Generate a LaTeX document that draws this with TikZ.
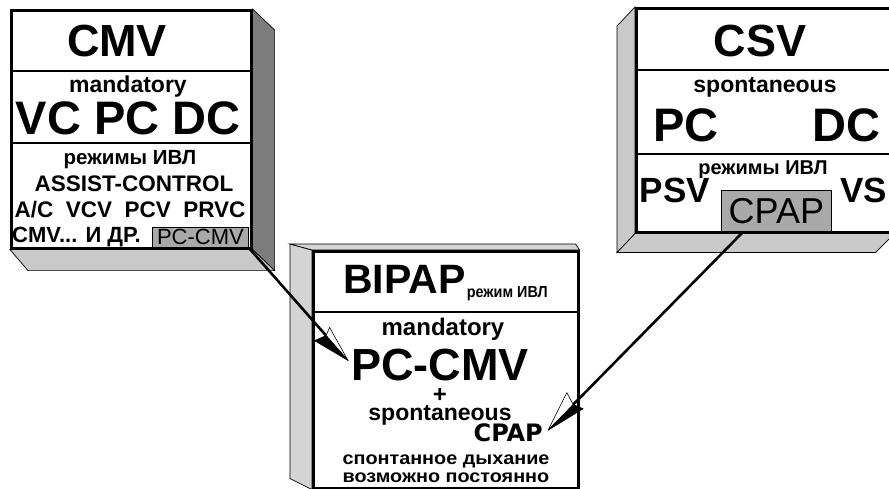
\documentclass[tikz,border=0pt]{standalone}
\usepackage{fontspec}
\setmainfont{Liberation Sans}
\newfontfamily\heavyfont{DejaVu Sans}
\newfontfamily\widefont{Liberation Sans}[FakeStretch=1.1]
\newfontfamily\narrowfont{Liberation Sans}[FakeStretch=0.9]
\usetikzlibrary{arrows.meta,positioning,calc,backgrounds}
\definecolor{shade}{HTML}{7d7d7d}
\definecolor{pale}{HTML}{c9c9c9}
\definecolor{chip}{HTML}{a9a9a9}

% two-tone arrow head: start, tip, length, white width, dark width, white side, dark side
\newcommand\kitehead[7]{%
  \coordinate (kb) at ($(#2)!#3!(#1)$);
  \coordinate (kn) at ($(#2)!0.9*#3!(#1)$);
  \coordinate (kw) at ($(kb)!#4!#6:(#2)$);
  \coordinate (kd) at ($(kb)!#5!#7:(#2)$);
  \filldraw[fill=white,line width=0.6pt,line join=round] (#2) -- (kw) -- (kn) -- cycle;
  \filldraw[line width=0.6pt,line join=round] (#2) -- (kd) -- (kn) -- cycle;}

\begin{document}
\begin{tikzpicture}[x=1pt,y=-1pt,
   face/.style={draw,line width=2.6pt,fill=white,inner sep=0pt,anchor=north west},
   sideface/.style={draw,line width=0.7pt,fill=#1},
   rule/.style={line width=1.3pt},
   txt/.style={inner sep=0pt,anchor=base,font=\bfseries\fontsize{#1}{#1}\selectfont},
   chipbox/.style={draw,line width=0.8pt,fill=chip,anchor=north west,inner sep=0pt},
   shaft/.style={line width=2.6pt}]
  \useasboundingbox (0,0) rectangle (889,489);

  % fronts
  \node[face,minimum width=240pt,minimum height=238pt] (cmv) at (10,9) {};
  \node[face,minimum width=257pt,minimum height=224pt] (csv) at (635,7) {};
  \node[face,minimum width=265pt,minimum height=237pt] (bip) at (312,250) {};

  % extrusions
  \begin{scope}[on background layer]
    \draw[sideface=shade] (cmv.north east) -- ++(22,21) -- ($(cmv.south east)+(22,21)$) -- (cmv.south east) -- cycle;
    \draw[sideface=pale] (cmv.south west) -- ++(18,21) -- ($(cmv.south east)+(22,21)$) -- (cmv.south east) -- cycle;
    \draw[sideface=pale] (csv.north west) -- ++(-18,19) -- ($(csv.south west)+(-18,19)$) -- (csv.south west) -- cycle;
    \draw[sideface=pale] (csv.south west) -- ++(-18,19) -- ($(csv.south east)+(-19,19)$) -- (csv.south east) -- cycle;
    \draw[sideface=pale!80!white] (bip.north west) -- ++(-22,-6) -- ($(bip.south west)+(-22,-11)$) -- (bip.south west) -- cycle;
    \draw[sideface=pale!80!white] (bip.north west) -- ++(-22,-6) -- ($(bip.north east)+(-4,-6)$) -- (bip.north east) -- cycle;
  \end{scope}

  % dividers
  \draw[rule] (cmv.west |- 0,71) -- (cmv.east |- 0,71);
  \draw[rule] (cmv.west |- 0,143) -- (cmv.east |- 0,143);
  \draw[rule] (csv.west |- 0,70) -- (csv.east |- 0,70);
  \draw[rule] (csv.west |- 0,154) -- (csv.east |- 0,154);
  \draw[rule] (bip.west |- 0,312) -- (bip.east |- 0,312);

  % CMV box
  \node[txt=45] (t1) at (117,57) {CMV};
  \node[txt=23] (m1) at (128,93) {mandatory};
  \node[txt=47] (v1) at (128,135) {VC PC DC};
  \node[txt=20.5] (r1) at (130,165) {режимы ИВЛ};
  \node[txt=22.5] (a1) at (134,192) {ASSIST-CONTROL};
  \node[txt=22.5] (a2) at (130,218) {A/C\ \ VCV\ \ PCV\ \ PRVC};
  \node[txt=22,anchor=base west] (c1) at (12,243) {CMV... И ДР.};
  \node[chipbox,minimum width=96pt,minimum height=20pt,font=\fontsize{22}{22}\selectfont] (chipa) at (152,227) {PC-CMV};

  % CSV box
  \node[txt=45] (t2) at (760,57) {CSV};
  \node[txt=23] (s2) at (765,93) {spontaneous};
  \node[txt=47] (p2) at (686,142) {PC};
  \node[txt=47] (d2) at (846,142) {DC};
  \node[txt=20] (r2) at (763,175) {режимы ИВЛ};
  \node[txt=35] (ps) at (675,203) {PSV};
  \node[txt=35,anchor=base west] (vs) at (840,203) {VS};
  \node[chipbox,minimum width=110pt,minimum height=41pt,font=\fontsize{36}{36}\selectfont] (chipb) at (721,190) {CPAP};

  % BIPAP box
  \node[txt=41,anchor=base west] (t3) at (343,293) {BIPAP};
  \node[inner sep=0pt,anchor=base west,font=\narrowfont\bfseries\fontsize{16}{16}\selectfont] (sub) at ($(t3.base east)+(1,4)$) {режим ИВЛ};
  \node[txt=24] (m3) at (443,335) {mandatory};
  \node[txt=45] (pc) at (440,380) {PC-CMV};
  \node[txt=24] (plus) at (440,402) {+};
  \node[txt=23] (s3) at (440,420) {spontaneous};
  \node[inner sep=0pt,anchor=base east,font=\heavyfont\bfseries\fontsize{24}{24}\selectfont] (cp) at (543,441) {CPAP};
  \node[inner sep=0pt,anchor=base,font=\widefont\bfseries\fontsize{18}{18}\selectfont] (l1) at (446,464) {спонтанное дыхание};
  \node[inner sep=0pt,anchor=base,font=\widefont\bfseries\fontsize{18}{18}\selectfont] (l2) at (446,482) {возможно постоянно};

  % arrows
  \coordinate (ea) at ($(pc.west)+(-3,-4)$);
  \coordinate (sb) at ($(chipb.south west)!0.2!(chipb.south east)$);
  \coordinate (eb) at ($(cp.east)+(5,-2)$);
  \draw[shaft,shorten >=22pt] (chipa.south east) -- (ea);
  \draw[shaft,shorten >=26pt] (sb) -- (eb);
  \kitehead{chipa.south east}{ea}{37pt}{8pt}{12pt}{90}{-90}
  \kitehead{sb}{eb}{40pt}{13pt}{10pt}{-90}{90}
\end{tikzpicture}
\end{document}
